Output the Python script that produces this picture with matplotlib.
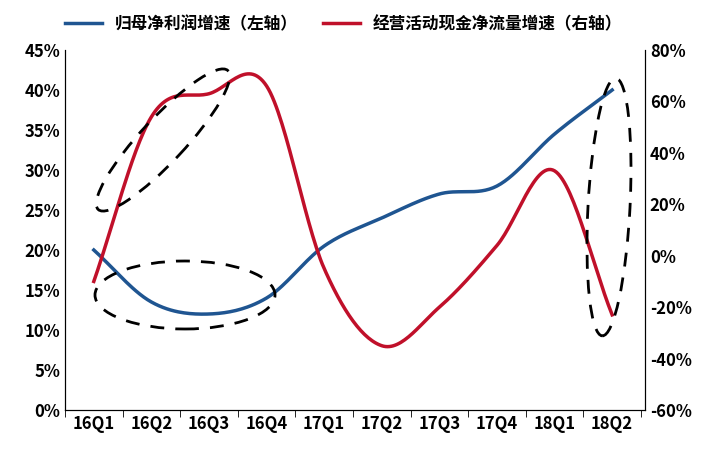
import numpy as np
import matplotlib
matplotlib.use("Agg")
import matplotlib.pyplot as plt
from matplotlib.patches import Ellipse

plt.rcParams["font.family"] = ["Noto Sans CJK SC", "DejaVu Sans"]
plt.rcParams["font.weight"] = "bold"

quarters = ["16Q1", "16Q2", "16Q3", "16Q4", "17Q1", "17Q2", "17Q3", "17Q4", "18Q1", "18Q2"]
profit_growth = [20.0, 13.5, 12.0, 14.0, 20.5, 24.0, 27.0, 28.0, 34.5, 40.0]
cashflow_growth = [-10.0, 54.0, 63.0, 66.0, -5.0, -35.0, -20.0, 4.0, 33.0, -23.0]


def smooth(y, n=30):
    # Catmull-Rom curve through the points
    y = np.asarray(y, float)
    p = np.concatenate([[2 * y[0] - y[1]], y, [2 * y[-1] - y[-2]]])
    xs, ys = [], []
    for i in range(len(y) - 1):
        t = np.linspace(0, 1, n, endpoint=False)
        p0, p1, p2, p3 = p[i], p[i + 1], p[i + 2], p[i + 3]
        ys.append(0.5 * (2 * p1 + (-p0 + p2) * t + (2 * p0 - 5 * p1 + 4 * p2 - p3) * t**2
                         + (-p0 + 3 * p1 - 3 * p2 + p3) * t**3))
        xs.append(i + t)
    xs.append([len(y) - 1]); ys.append([y[-1]])
    return np.concatenate(xs), np.concatenate(ys)


fig = plt.figure(figsize=(7.16, 4.54), dpi=100)
ax = fig.add_axes([65 / 716, 44 / 454, 580 / 716, 360 / 454])
ax2 = ax.twinx()

x = np.arange(len(quarters))
bx, by = smooth(profit_growth)
rx, ry = smooth(cashflow_growth)
l1, = ax.plot(bx, by, color="#1f5591", lw=2.5, label="归母净利润增速（左轴）")
l2, = ax2.plot(rx, ry, color="#c0102a", lw=2.5, label="经营活动现金净流量增速（右轴）")

ax.set_xlim(-0.47, 9.57)
ax.set_ylim(0, 45)
ax.set_yticks(np.arange(0, 46, 5))
ax.set_yticklabels([f"{v}%" for v in range(0, 46, 5)], fontsize=12)
ax2.set_ylim(-60, 80)
ax2.set_yticks(np.arange(-60, 81, 20))
ax2.set_yticklabels([f"{v}%" for v in range(-60, 81, 20)], fontsize=12)
ax.set_xticks(x)
ax.set_xticklabels(quarters, fontsize=12)
for a in (ax, ax2):
    a.tick_params(axis="y", length=0)
    a.spines["top"].set_visible(False)
ax.set_xticks(np.arange(-0.5, 10, 1), minor=True)
ax.tick_params(axis="x", which="major", length=0)
ax.tick_params(axis="x", which="minor", length=5)

fig.legend(handles=[l1, l2], loc="upper left", bbox_to_anchor=(50 / 716, 1.0), ncol=2,
           frameon=False, fontsize=12, handlelength=2.2, columnspacing=1.5)

H = 454
for (cx, cy, w, h, ang) in [(163, 140, 190, 44, 47), (185, 295, 180, 68, 0), (609, 207, 42, 258, -3)]:
    fig.patches.append(Ellipse((cx, H - cy), w, h, angle=ang, transform=None, fill=False,
                               ls=(0, (5, 4)), lw=2, color="black"))

fig.savefig("out.png", dpi=100)
